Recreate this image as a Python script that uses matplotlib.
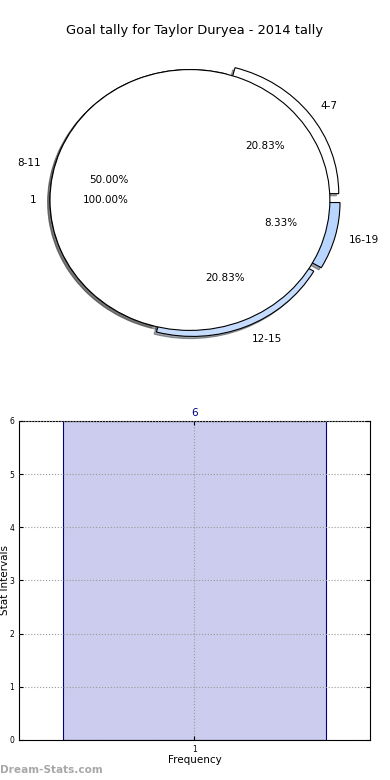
import matplotlib
matplotlib.use('Agg')
import matplotlib.pyplot as plt

# data
ranges = ['4-7', '8-11', '12-15', '16-19']
range_share = [20.83, 50.00, 20.83, 8.33]
range_colors = ['#ffffff', '#ffffff', '#c6dcff', '#b8d6ff']
range_explode = [0.08, 0.0, 0.05, 0.075]

totals = ['1']
total_share = [100.0]

freq_labels = ['1']
freq_values = [6]

fig = plt.figure(figsize=(3.9, 7.8), dpi=100)

shadow = {'ox': -0.012, 'oy': -0.012}
edge = {'linewidth': 0.8, 'edgecolor': 'black'}

# pie (not equal aspect, like the old style output)
ax1 = fig.add_axes([0.0385, 0.5346, 0.897, 0.418])
ax1.pie(range_share, labels=ranges, colors=range_colors, explode=range_explode,
        autopct='%1.2f%%', shadow=shadow, startangle=0,
        wedgeprops=edge, textprops={'fontsize': 7.5})
ax1.pie(total_share, labels=totals, colors=['white'], autopct='%1.2f%%',
        shadow=shadow, startangle=0,
        wedgeprops=edge, textprops={'fontsize': 7.5})
ax1.set_aspect('auto')
ax1.set_xlim(-1.25, 1.25)
ax1.set_ylim(-1.25, 1.25)
ax1.axis('off')
fig.text(0.5, 0.961, 'Goal tally for Taylor Duryea - 2014 tally',
         ha='center', va='center', fontsize=9.4)

# bar chart
ax2 = fig.add_axes([0.0487, 0.0513, 0.9, 0.409])
bars = ax2.bar([1], freq_values, width=0.75, color='#ccccee', edgecolor='navy',
               linewidth=0.8)
for b, v in zip(bars, freq_values):
    ax2.text(b.get_x() + b.get_width() / 2, v + 0.05, str(v), ha='center',
             va='bottom', color='navy', fontsize=7.5)
ax2.set_xlim(0.5, 1.5)
ax2.set_ylim(0, 6)
ax2.set_xticks([1])
ax2.set_xticklabels(freq_labels)
ax2.set_yticks(range(0, 7))
ax2.tick_params(labelsize=5.5, length=3, direction='in', top=True, right=True)
ax2.grid(True, linestyle=':', color='#999999', linewidth=0.8)
ax2.set_axisbelow(False)
ax2.set_xlabel('Frequency', fontsize=7.5, labelpad=1)
ax2.set_ylabel('Stat Intervals', fontsize=7.5)
ax2.yaxis.set_label_coords(-0.027, 0.5)
for s in ax2.spines.values():
    s.set_linewidth(0.8)

fig.text(0.0, 0.013, 'Dream-Stats.com', fontsize=7.6, color='#a8a8a8',
         fontweight='bold', ha='left', va='center')

fig.savefig('out.png', dpi=100)
